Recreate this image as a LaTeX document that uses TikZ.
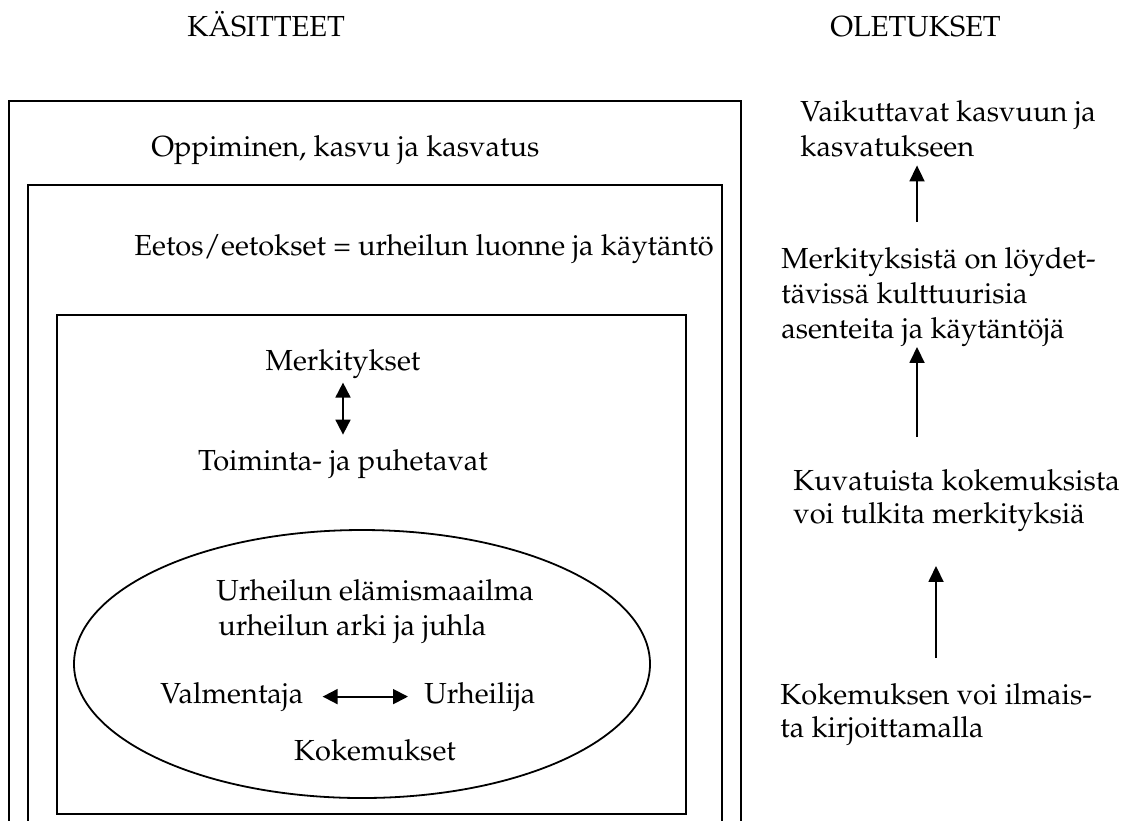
\documentclass[tikz,border=0pt]{standalone}
\usepackage[T1]{fontenc}
\usepackage{mathpazo}
\usetikzlibrary{arrows.meta}

\begin{document}
\begin{tikzpicture}[x=0.5pt,y=-0.5pt,
    box/.style={line width=0.9pt},
    txt/.style={inner sep=0pt, font=\fontsize{14.5}{17.5}\selectfont},
    tight/.style={txt, font=\fontsize{14.5}{16.5}\selectfont},
    arr/.style={line width=0.9pt, -{Triangle[length=8pt,width=7.5pt]}},
    dblarr/.style={line width=0.9pt, {Triangle[length=7.5pt,width=7.5pt]}-{Triangle[length=7.5pt,width=7.5pt]}}]
    \useasboundingbox (0,0) rectangle (1127,820);
    \clip (0,0) rectangle (1127,820);

    % Column headings
    \node[txt, anchor=base west] (kas) at (187,36) {KÄSITTEET};
    \node[txt, anchor=base west] (ole) at (830,36) {OLETUKSET};

    % Nested boxes (they run on below the page)
    \draw[box] (9,101) rectangle (741,840);
    \draw[box] (28,185) rectangle (722,840);
    \draw[box] (57,315) rectangle (686,814);

    \node[txt, anchor=base west] (opp) at (151,156) {Oppiminen, kasvu ja kasvatus};
    \node[txt, anchor=base west] (eet) at (134,255) {Eetos/eetokset = urheilun luonne ja käytäntö};

    % Meanings and ways of acting
    \node[txt, anchor=base] (merk) at (343,370) {Merkitykset};
    \node[txt, anchor=base] (toim) at (343,470) {Toiminta- ja puhetavat};
    \draw[dblarr, shorten <=2pt, shorten >=7pt] (merk.south) -- (toim.north);

    % Life-world ellipse
    \draw[box] (362,664) ellipse [x radius=288, y radius=134];
    \node[txt, anchor=base west] (ela) at (216,600) {Urheilun elämismaailma};
    \node[txt, anchor=base west] (ark) at (218,635) {urheilun arki ja juhla};
    \node[txt, anchor=base west] (valm) at (160,703) {Valmentaja};
    \node[txt, anchor=base west] (urh) at (424,703) {Urheilija};
    \draw[dblarr, shorten <=9.5pt, shorten >=8pt] (valm.east) -- (urh.west);
    \node[txt, anchor=base] (koke) at (375,760) {Kokemukset};

    % Assumptions column
    \node[txt, anchor=north west, align=left] (vai) at (800,100) {Vaikuttavat kasvuun ja\\kasvatukseen};
    \node[txt, anchor=north west, align=left] (mer) at (781,247) {Merkityksistä on löydet-\\tävissä kulttuurisia\\asenteita ja käytäntöjä};
    \node[tight, anchor=north west, align=left] (kuv) at (793,469) {Kuvatuista kokemuksista\\voi tulkita merkityksiä};
    \node[tight, anchor=north west, align=left] (kok) at (780,683) {Kokemuksen voi ilmais-\\ta kirjoittamalla};

    \draw[arr, shorten <=12.5pt, shorten >=17pt] (kok.north -| 936,0) -- (kuv.south -| 936,0);
    \draw[arr, shorten <=16pt, shorten >=0pt] (kuv.north -| 917,0) -- (mer.south -| 917,0);
    \draw[arr, shorten <=12.5pt, shorten >=4pt] (mer.north -| 917,0) -- (vai.south -| 917,0);
\end{tikzpicture}
\end{document}
